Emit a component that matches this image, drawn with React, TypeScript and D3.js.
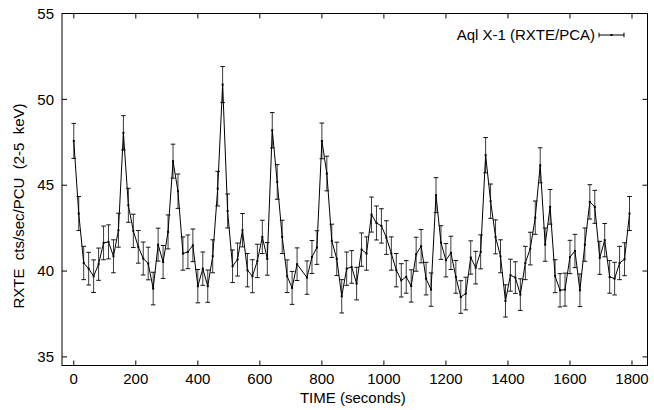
import React from "react";
import * as d3 from "d3";

const times: number[] = [
  0, 16, 32, 48, 64, 80, 96, 112, 128, 144,
  160, 176, 192, 208, 224, 240, 256, 272, 288, 304,
  320, 336, 352, 368, 384, 400, 416, 432, 448, 464,
  480, 496, 512, 528, 544, 560, 576, 592, 608, 624,
  640, 656, 672, 688, 704, 720, 752, 768, 784,
  800, 816, 832, 848, 864, 880, 896, 912, 928, 944,
  960, 976, 992, 1008, 1024, 1040, 1056, 1072, 1088, 1104,
  1120, 1136, 1152, 1168, 1184, 1200, 1216, 1232, 1248, 1264,
  1280, 1296, 1312, 1328, 1344, 1360, 1376, 1392, 1408, 1424,
  1440, 1456, 1472, 1488, 1504, 1520, 1536, 1552, 1568, 1584,
  1600, 1616, 1632, 1648, 1664, 1680, 1696, 1712, 1728, 1744,
  1760, 1776, 1792,
];

const rates: number[] = [
  47.58, 43.35, 40.47, 40.14, 39.7, 40.4, 41.64, 41.7, 40.86, 42.38,
  48.05, 43.83, 42.34, 41.41, 40.73, 40.44, 38.98, 41.54, 40.53, 42.28,
  46.4, 44.65, 41.02, 41.12, 41.5, 39.12, 40.14, 39.12, 40.86, 44.8,
  50.86, 43.5, 40.28, 40.67, 42.38, 40.05, 39.7, 40.59, 41.99, 40.71,
  48.2, 45.19, 41.99, 39.7, 39.02, 40.4, 39.62, 40.82, 41.37,
  47.58, 45.68, 41.76, 40.71, 38.53, 40.14, 40.24, 39.27, 41.25, 41.02,
  43.29, 42.8, 42.63, 41.95, 41.02, 40.05, 39.46, 39.66, 39.13, 40.98,
  41.45, 39.56, 38.92, 44.42, 41.66, 40.63, 41.06, 39.66, 38.49, 38.69,
  40.79, 40.2, 41.12, 46.75, 44.07, 41.99, 40.86, 38.26, 39.76, 39.62,
  38.63, 40.47, 41.31, 43.11, 46.16, 41.54, 43.74, 39.7, 38.88, 38.92,
  40.82, 41.17, 38.88, 41.54, 44.03, 43.74, 40.77, 41.8, 39.66, 39.56,
  40.47, 40.69, 43.35,
];

const errors: number[] = [
  1.02, 0.99, 0.97, 0.95, 0.95, 0.94, 0.98, 0.99, 0.96, 0.99,
  1.0, 0.99, 0.97, 0.95, 0.96, 0.95, 0.95, 0.96, 0.96, 0.99,
  0.99, 1.0, 0.97, 0.98, 0.95, 0.97, 0.97, 0.94, 0.96, 1.01,
  1.05, 0.99, 0.95, 0.96, 0.97, 0.97, 0.96, 0.97, 0.97, 0.95,
  1.03, 1.01, 0.97, 0.95, 0.96, 0.95, 0.97, 0.96, 0.98,
  1.04, 1.01, 0.97, 0.97, 0.97, 0.97, 0.95, 0.95, 0.97, 0.97,
  1.02, 0.99, 1.0, 0.98, 0.97, 0.97, 0.97, 0.95, 0.94, 0.99,
  0.97, 0.95, 0.97, 1.02, 0.98, 0.97, 0.97, 0.95, 0.95, 0.95,
  0.97, 0.95, 0.99, 1.03, 1.0, 0.99, 0.96, 0.94, 0.93, 0.92,
  0.92, 0.97, 0.95, 0.97, 1.02, 0.97, 1.01, 0.96, 0.97, 0.96,
  0.97, 0.97, 0.95, 0.97, 1.0, 0.96, 0.96, 0.97, 0.95, 0.95,
  0.97, 0.96, 0.99,
];

const xTicks: number[] = [0, 200, 400, 600, 800, 1000, 1200, 1400, 1600, 1800];
const yTicks: number[] = [35, 40, 45, 50, 55];

const xLabel = "TIME (seconds)";
const yLabel = "RXTE  cts/sec/PCU  (2-5  keV)";
const legendLabel = "Aql X-1 (RXTE/PCA)";

const W = 654;
const H = 410;
const left = 62;
const right = 647.5;
const top = 13.5;
const bottom = 365.5;

const FONT = "'Liberation Sans', Arial, Helvetica, sans-serif";

export default function App() {
  const x = d3.scaleLinear().domain([-38, 1850]).range([left, right]);
  const y = d3.scaleLinear().domain([34.5, 55]).range([bottom, top]);

  const data = times.map((t, i) => ({ t, v: rates[i], e: errors[i] }));
  const line = d3
    .line<{ t: number; v: number }>()
    .x((d) => x(d.t))
    .y((d) => y(d.v));

  const cap = 2.3;
  const tickLen = 5;
  const barColor = "#3a3a3a";

  const legX1 = 599;
  const legX2 = 624;
  const legY = 35;

  return (
    <svg
      width={W}
      height={H}
      style={{ position: "absolute", left: 0, top: 0, background: "#fff" }}
      fontFamily={FONT}
    >
      <rect x={0} y={0} width={W} height={H} fill="#fff" />
      {/* error bars */}
      <g stroke={barColor} strokeWidth={1} fill="none">
        {data.map((d, i) => {
          const cx = x(d.t);
          const y1 = y(d.v - d.e);
          const y2 = y(d.v + d.e);
          return (
            <g key={i}>
              <line x1={cx} x2={cx} y1={y1} y2={y2} />
              <line x1={cx - cap} x2={cx + cap} y1={y1} y2={y1} stroke="#111" />
              <line x1={cx - cap} x2={cx + cap} y1={y2} y2={y2} stroke="#111" />
            </g>
          );
        })}
      </g>
      {/* line */}
      <path d={line(data) || ""} fill="none" stroke="#000" strokeWidth={1} />
      {/* points */}
      <g fill="#000">
        {data.map((d, i) => (
          <rect key={i} x={x(d.t) - 1} y={y(d.v) - 1} width={2} height={2} />
        ))}
      </g>
      {/* frame */}
      <rect
        x={left}
        y={top}
        width={right - left}
        height={bottom - top}
        fill="none"
        stroke="#000"
        strokeWidth={1}
      />
      {/* ticks */}
      <g stroke="#000" strokeWidth={1}>
        {xTicks.map((t) => (
          <g key={"xt" + t}>
            <line x1={x(t)} x2={x(t)} y1={bottom} y2={bottom - tickLen} />
            <line x1={x(t)} x2={x(t)} y1={top} y2={top + tickLen} />
          </g>
        ))}
        {yTicks.map((t) => (
          <g key={"yt" + t}>
            <line x1={left} x2={left + tickLen} y1={y(t)} y2={y(t)} />
            <line x1={right} x2={right - tickLen} y1={y(t)} y2={y(t)} />
          </g>
        ))}
      </g>
      <g fontSize={15} fill="#000">
        {xTicks.map((t) => (
          <text key={"xl" + t} x={x(t)} y={384} textAnchor="middle">
            {t}
          </text>
        ))}
        {yTicks.map((t) => (
          <text key={"yl" + t} x={54} y={y(t) + 5.2} textAnchor="end">
            {t}
          </text>
        ))}
        <text x={(x(0) + x(1800)) / 2} y={402.5} textAnchor="middle">
          {xLabel}
        </text>
        <text
          transform={`translate(23.5,206) rotate(-90)`}
          textAnchor="middle"
          style={{ whiteSpace: "pre" }}
        >
          {yLabel}
        </text>
        <text x={595} y={legY + 5} textAnchor="end">
          {legendLabel}
        </text>
      </g>
      {/* legend sample */}
      <g stroke="#000" strokeWidth={1}>
        <line x1={legX1} x2={legX2} y1={legY} y2={legY} />
        <line x1={legX1} x2={legX1} y1={legY - cap} y2={legY + cap} />
        <line x1={legX2} x2={legX2} y1={legY - cap} y2={legY + cap} />
      </g>
      <rect x={(legX1 + legX2) / 2 - 1} y={legY - 1} width={2} height={2} fill="#000" />
    </svg>
  );
}
